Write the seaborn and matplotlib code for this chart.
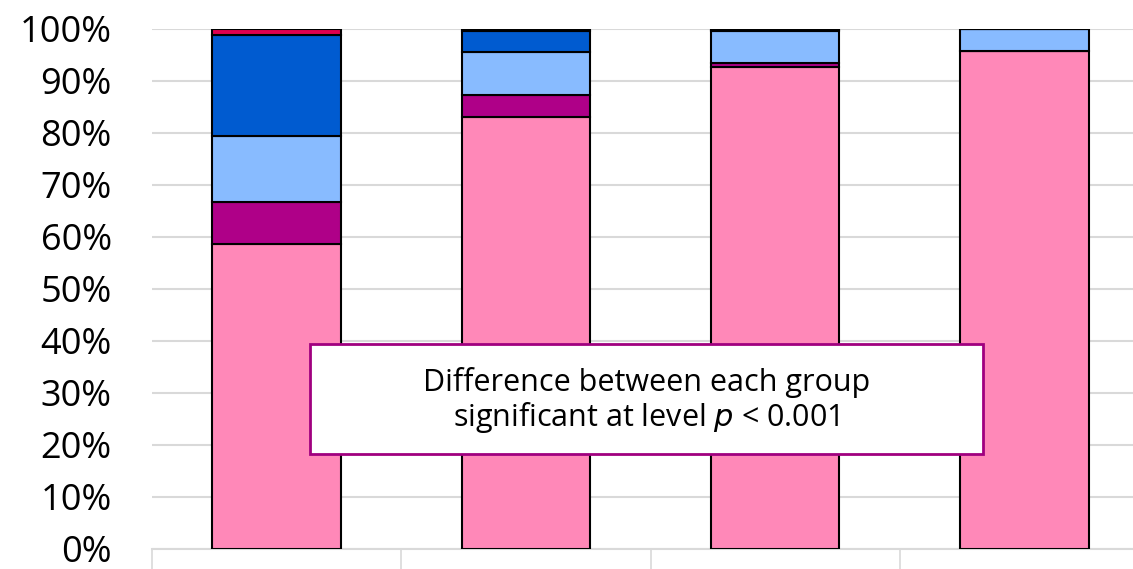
import matplotlib
matplotlib.use("Agg")
import matplotlib.pyplot as plt
import seaborn as sns
import pandas as pd
import numpy as np
from matplotlib.patches import Rectangle

categories = ["G1", "G2", "G3", "G4"]
s_pink = [58.7, 83.1, 92.6, 95.8]
s_purple = [8.0, 4.3, 0.8, 0.0]
s_lightblue = [12.7, 8.1, 6.2, 4.2]
s_darkblue = [19.5, 4.2, 0.3, 0.0]
s_red = [1.1, 0.3, 0.1, 0.0]
y_ticks = [0, 10, 20, 30, 40, 50, 60, 70, 80, 90, 100]
y_labels = [f"{v}%" for v in y_ticks]

series = [s_pink, s_purple, s_lightblue, s_darkblue, s_red]
colors = ["#FF88B8", "#AF0088", "#88BBFF", "#005BD0", "#E0004F"]

sns.set_theme(style="white")
plt.rcParams['font.family'] = ['Open Sans', 'DejaVu Sans']

fig = plt.figure(figsize=(11.33, 5.69), dpi=100)
ax = fig.add_axes([152/1133, 20/569, 997/1133, 520/569])

cum = np.zeros(len(categories))
for vals, col in zip(series, colors):
    df = pd.DataFrame({"cat": categories, "val": vals})
    sns.barplot(data=df, x="cat", y="val", bottom=cum.copy(), color=col,
                width=0.515, edgecolor="black", linewidth=1.5, ax=ax,
                saturation=1, zorder=3)
    cum = cum + np.array(vals)

ax.set_ylim(0, 100)
ax.set_xlim(-0.5, 3.5)
ax.set_yticks(y_ticks)
ax.set_yticklabels(y_labels, fontsize=26, color="black")
ax.yaxis.grid(True, color="#d9d9d9", linewidth=1.5, zorder=0)
ax.set_axisbelow(True)
ax.set_xlabel("")
ax.set_ylabel("")
ax.set_xticks([])
ax.set_xticks([-0.5, 0.5, 1.5, 2.5, 3.5], minor=True)
ax.tick_params(axis="x", which="minor", length=14.5, width=1.2, color="#d9d9d9",
               bottom=True, labelbottom=False)
ax.tick_params(axis="y", length=0, pad=29)
for s in ["top", "right", "left"]:
    ax.spines[s].set_visible(False)
ax.spines["bottom"].set_color("#d9d9d9")
ax.spines["bottom"].set_linewidth(1.5)

fig.patches.append(Rectangle((310/1133, 1 - 454/569), (983-310)/1133, (454-344)/569,
                             transform=fig.transFigure, facecolor="white",
                             edgecolor="#A0007F", linewidth=2, zorder=5))
fig.text((310+983)/2/1133, 1 - 401/569,
         "Difference between each group\nsignificant at level $\\it{p}$ < 0.001",
         ha="center", va="center", fontsize=22, linespacing=1.05, zorder=10,
         color="black")

fig.savefig("out.png", dpi=100)
